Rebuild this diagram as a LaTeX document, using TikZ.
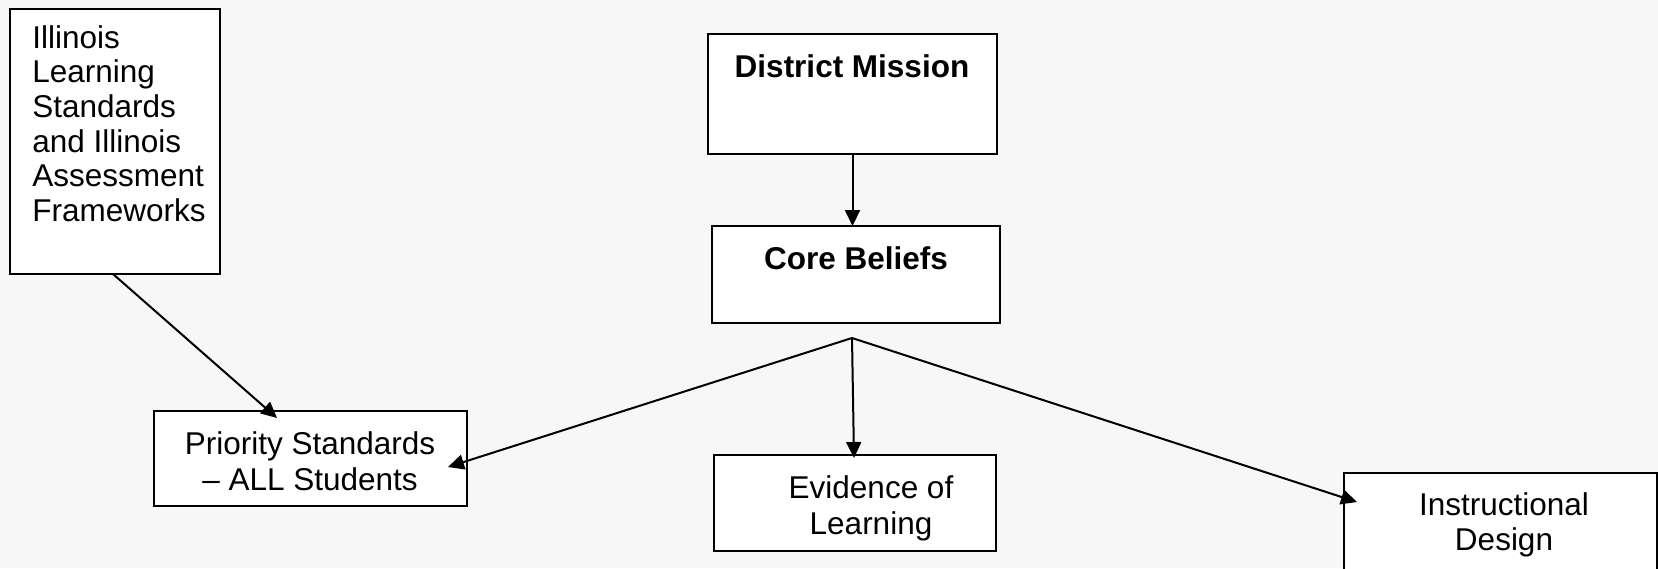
\documentclass[tikz,border=0pt]{standalone}
\usepackage{fontspec}
\setmainfont{Liberation Sans}
\usetikzlibrary{arrows.meta,calc}
\definecolor{bgcol}{RGB}{247,247,247}
\begin{document}
\begin{tikzpicture}[x=0.5pt,y=-0.5pt,
  box/.style={draw=black,line width=1pt,fill=white,inner sep=0pt,outer sep=0pt,anchor=north west},
  txt/.style={inner sep=0pt,font=\fontsize{15.75pt}{18pt}\selectfont,align=center,anchor=base},
  conn/.style={line width=1pt,-{Triangle[length=8pt,width=7.5pt]}}]
% canvas
\useasboundingbox (0,0) rectangle (1658,568);
\fill[bgcol] (0,0) rectangle (1658,568);
\clip (0,0) rectangle (1658,568);

% boxes
\node[box,minimum width=105pt,minimum height=132.5pt] (ils) at (10,9) {};
\node[box,minimum width=144.5pt,minimum height=60pt] (dm) at (708,34) {};
\node[box,minimum width=144pt,minimum height=48.5pt] (cb) at (712,226) {};
\node[box,minimum width=156.5pt,minimum height=47.5pt] (prio) at (154,411) {};
\node[box,minimum width=141pt,minimum height=48pt] (evid) at (714,455) {};
\node[box,minimum width=156.5pt,minimum height=60pt] (instr) at (1344,473) {};

% labels (multi-line nodes sit on the baseline of their last line)
\node[txt,anchor=base west,align=left,font=\fontsize{15.75pt}{17.35pt}\selectfont] (ilsT) at (32,221.5)
  {Illinois\\Learning\\Standards\\and Illinois\\Assessment\\Frameworks};
\node[txt,font=\fontsize{15.75pt}{18pt}\selectfont\bfseries] (dmT) at (852,77) {District Mission};
\node[txt,font=\fontsize{15.75pt}{18pt}\selectfont\bfseries] (cbT) at (856,269) {Core Beliefs};
\node[txt] (prioT) at (310,490) {Priority Standards\\\textendash{} ALL Students};
\node[txt] (evidT) at (871,534) {Evidence of\\Learning};
\node[txt,font=\fontsize{15.75pt}{17.5pt}\selectfont] (instrT) at (1504,550) {Instructional\\Design};

% connector end points
\coordinate (fork) at ($(cb.south)+(-4,15)$);
\coordinate (ilsOut) at ($(ils.south west)+(103,0)$);
\coordinate (prioIn) at ($(prio.north west)+(123,7)$);
\coordinate (prioSide) at ($(prio.north east)+(-19,56)$);
\coordinate (evidIn) at ($(evid.north west)+(140,3)$);
\coordinate (instrIn) at ($(instr.north west)+(13,29)$);

% connectors
\draw[conn] (dm.south) -- (dm.south |- cb.north);
\draw[conn] (ilsOut) -- (prioIn);
\draw[conn] (fork) -- (prioSide);
\draw[conn] (fork) -- (evidIn);
\draw[conn] (fork) -- (instrIn);
\end{tikzpicture}
\end{document}
